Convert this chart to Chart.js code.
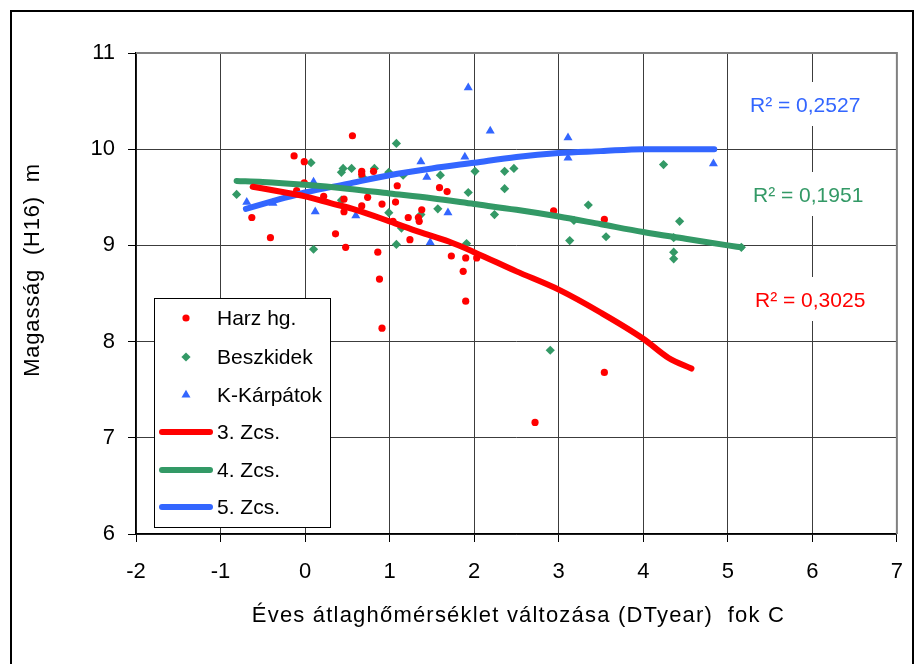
<!DOCTYPE html>
<html>
<head>
<meta charset="utf-8">
<script src="https://cdn.jsdelivr.net/npm/chart.js@4.4.1/dist/chart.umd.min.js"></script>
<style>
  html, body { margin: 0; padding: 0; background: #fff; }
  #wrap { width: 920px; height: 664px; }
</style>
</head>
<body>
<div id="wrap"><canvas id="myChart" width="920" height="664"></canvas></div>
<script>
// measured points (DTyear, height)
var harzX = [-0.63, -0.41, -0.13, -0.01, -0.01, -0.10, 0.22, 0.36, 0.48, 0.46, 0.46, 0.56, 0.67, 0.67, 0.81, 0.67, 0.74, 0.91, 0.86, 0.88, 0.91, 1.04, 1.07, 1.09, 1.22, 1.24, 1.34, 1.35, 1.38, 1.59, 1.68, 1.73, 1.90, 1.87, 2.03, 1.90, 2.94, 3.54, 2.72, 3.54]
var harzY = [9.29, 9.08, 9.93, 9.87, 9.65, 9.57, 9.51, 9.12, 8.98, 9.48, 9.35, 10.14, 9.77, 9.74, 9.77, 9.41, 9.50, 9.43, 8.93, 8.65, 8.14, 9.25, 9.45, 9.62, 9.29, 9.06, 9.29, 9.25, 9.37, 9.60, 9.56, 8.89, 8.87, 8.73, 8.87, 8.42, 9.36, 9.27, 7.16, 7.68]

var beszX = [-0.81, 0.07, 0.10, 0.43, 0.45, 0.55, 0.43, 0.68, 0.82, 0.99, 1.08, 0.99, 1.08, 1.14, 1.16, 1.37, 1.60, 1.57, 1.93, 1.91, 2.01, 2.24, 2.36, 2.36, 2.47, 3.35, 3.13, 3.56, 3.18, 4.24, 4.43, 4.36, 4.36, 4.36, 5.16, 2.90]
var beszY = [9.53, 9.86, 8.96, 9.76, 9.80, 9.80, 9.47, 9.71, 9.80, 9.76, 10.06, 9.34, 9.01, 9.18, 9.73, 9.32, 9.73, 9.38, 9.55, 9.02, 9.77, 9.32, 9.77, 9.59, 9.80, 9.42, 9.05, 9.09, 9.26, 9.84, 9.25, 9.08, 8.93, 8.86, 8.98, 7.91]

var karpX = [-0.69, -0.38, 0.10, 0.12, 0.60, 1.37, 1.44, 1.48, 1.69, 1.89, 1.93, 2.19, 3.11, 3.11, 4.83]
var karpY = [9.45, 9.44, 9.66, 9.35, 9.31, 9.87, 9.71, 9.03, 9.34, 9.92, 10.64, 10.19, 10.12, 9.91, 9.85]

// trend curves
var z3X = [-0.62, -0.3, 0, 0.3, 0.6, 1.0, 1.35, 1.7, 2.0, 2.5, 3.0, 3.5, 4.0, 4.3, 4.57]
var z3Y = [9.61, 9.56, 9.51, 9.44, 9.37, 9.25, 9.14, 9.04, 8.93, 8.73, 8.54, 8.30, 8.03, 7.83, 7.72]
var z4X = [-0.81, -0.5, 0, 0.5, 1.0, 1.5, 2.0, 2.5, 3.0, 3.5, 4.0, 4.5, 5.0, 5.16]
var z4Y = [9.67, 9.66, 9.63, 9.59, 9.54, 9.49, 9.43, 9.37, 9.30, 9.22, 9.14, 9.07, 9.00, 8.98]
var z5X = [-0.70, -0.3, 0, 0.5, 1.0, 1.5, 2.0, 2.5, 3.0, 3.5, 4.0, 4.5, 4.84]
var z5Y = [9.38, 9.48, 9.55, 9.64, 9.73, 9.80, 9.86, 9.92, 9.96, 9.98, 10.0, 10.0, 10.0]

var r2Labels = ['R² = 0,2527', 'R² = 0,1951', 'R² = 0,3025']
var xTitle = 'Éves átlaghőmérséklet változása (DTyear)  fok C'
var yTitle = 'Magasság  (H16)  m'

var red = '#ff0000'
var green = '#339966'
var blue = '#3366ff'
var font = '"Liberation Sans", Arial, sans-serif'

function pts(xs, ys) {
  var out = []
  for (var i = 0; i < xs.length; i++) out.push({ x: xs[i], y: ys[i] })
  return out
}

var frame = {
  id: 'frame',
  beforeDraw: function (chart) {
    var ctx = chart.ctx
    ctx.save()
    ctx.fillStyle = '#fff'
    ctx.fillRect(0, 0, chart.width, chart.height)
    ctx.restore()
  },
  afterDraw: function (chart) {
    var ctx = chart.ctx
    var a = chart.chartArea
    ctx.save()
    // plot area top/right border
    ctx.strokeStyle = '#808080'
    ctx.lineWidth = 2
    ctx.beginPath()
    ctx.moveTo(a.left, a.top)
    ctx.lineTo(a.right, a.top)
    ctx.lineTo(a.right, a.bottom)
    ctx.stroke()

    // chart border
    ctx.strokeStyle = '#000'
    ctx.lineWidth = 2
    ctx.strokeRect(11, 11, 902, 700)

    // axis titles
    ctx.fillStyle = '#000'
    ctx.font = '22px ' + font
    ctx.letterSpacing = '1.2px'
    ctx.textAlign = 'center'
    ctx.textBaseline = 'alphabetic'
    ctx.fillText(xTitle, (a.left + a.right) / 2 + 2, 622)
    ctx.save()
    ctx.translate(33, 270)
    ctx.rotate(-Math.PI / 2)
    ctx.letterSpacing = '0.8px'
    ctx.textBaseline = 'middle'
    ctx.fillText(yTitle, 0, 0)
    ctx.restore()
    ctx.letterSpacing = '0px'
    ctx.textAlign = 'left'

    // R2 labels
    ctx.font = '21px ' + font
    ctx.textBaseline = 'alphabetic'
    var lab = [
      { t: r2Labels[0], c: blue, x: 750, y: 112 },
      { t: r2Labels[1], c: green, x: 753, y: 202 },
      { t: r2Labels[2], c: red, x: 755, y: 307 }
    ]
    lab.forEach(function (l) {
      var w = ctx.measureText(l.t).width
      ctx.fillStyle = '#fff'
      ctx.fillRect(l.x - 6, l.y - 30, w + 12, 44)
      ctx.fillStyle = l.c
      ctx.fillText(l.t, l.x, l.y)
    })

    // legend box
    ctx.fillStyle = '#fff'
    ctx.fillRect(154, 298, 176, 229)
    ctx.strokeStyle = '#000'
    ctx.lineWidth = 1
    ctx.strokeRect(154.5, 298.5, 176, 229)
    var ds = chart.data.datasets
    var rowY = [318, 357, 395, 432, 470, 507]
    ctx.font = '21px ' + font
    ctx.textBaseline = 'middle'
    ctx.textAlign = 'left'
    for (var i = 0; i < ds.length; i++) {
      var d = ds[i], y = rowY[i]
      if (d.showLine) {
        ctx.strokeStyle = d.borderColor
        ctx.lineWidth = 6
        ctx.lineCap = 'round'
        ctx.beginPath()
        ctx.moveTo(162, y)
        ctx.lineTo(210, y)
        ctx.stroke()
      } else {
        ctx.fillStyle = d.backgroundColor
        Chart.helpers.drawPoint(ctx, { pointStyle: d.pointStyle, radius: d.pointRadius, borderWidth: 0 }, 186, y)
      }
      ctx.fillStyle = '#000'
      ctx.fillText(d.label, 217, y + 1)
    }
    ctx.restore()
  }
}

var myChart = document.getElementById('myChart').getContext('2d')

var chart = new Chart(myChart, {
  type: 'scatter',
  data: {
    datasets: [
      { label: 'Harz hg.', data: pts(harzX, harzY), pointStyle: 'circle', pointRadius: 3.6, backgroundColor: red, borderColor: red, borderWidth: 0, order: 2 },
      { label: 'Beszkidek', data: pts(beszX, beszY), pointStyle: 'rectRot', pointRadius: 4.6, backgroundColor: green, borderColor: green, borderWidth: 0, order: 2 },
      { label: 'K-Kárpátok', data: pts(karpX, karpY), pointStyle: 'triangle', pointRadius: 5.2, backgroundColor: blue, borderColor: blue, borderWidth: 0, order: 2 },
      { label: '3. Zcs.', data: pts(z3X, z3Y), showLine: true, pointRadius: 0, borderColor: red, backgroundColor: red, borderWidth: 6, borderCapStyle: 'round', borderJoinStyle: 'round', cubicInterpolationMode: 'monotone', order: 1 },
      { label: '4. Zcs.', data: pts(z4X, z4Y), showLine: true, pointRadius: 0, borderColor: green, backgroundColor: green, borderWidth: 6, borderCapStyle: 'round', borderJoinStyle: 'round', cubicInterpolationMode: 'monotone', order: 1 },
      { label: '5. Zcs.', data: pts(z5X, z5Y), showLine: true, pointRadius: 0, borderColor: blue, backgroundColor: blue, borderWidth: 6, borderCapStyle: 'round', borderJoinStyle: 'round', cubicInterpolationMode: 'monotone', order: 1 }
    ]
  },
  options: {
    responsive: false,
    animation: false,
    events: [],
    layout: { padding: { left: 10, top: 53, right: 20, bottom: 70 } },
    plugins: {
      legend: { display: false },
      tooltip: { enabled: false }
    },
    scales: {
      x: {
        type: 'linear',
        min: -2, max: 7,
        afterFit: function (s) { s.height = 60 },
        ticks: { stepSize: 1, padding: 17, color: '#000', font: { family: font, size: 22 } },
        grid: { color: '#3c3c3c', lineWidth: 1, tickLength: 8, tickColor: '#000' },
        border: { color: '#000', width: 1.5 }
      },
      y: {
        type: 'linear',
        min: 6, max: 11,
        afterFit: function (s) { s.width = 126 },
        ticks: { stepSize: 1, padding: 13, color: '#000', font: { family: font, size: 22 } },
        grid: { color: '#3c3c3c', lineWidth: 1, tickLength: 8, tickColor: '#000' },
        border: { color: '#000', width: 1.5 }
      }
    }
  },
  plugins: [frame]
})
</script>
</body>
</html>
